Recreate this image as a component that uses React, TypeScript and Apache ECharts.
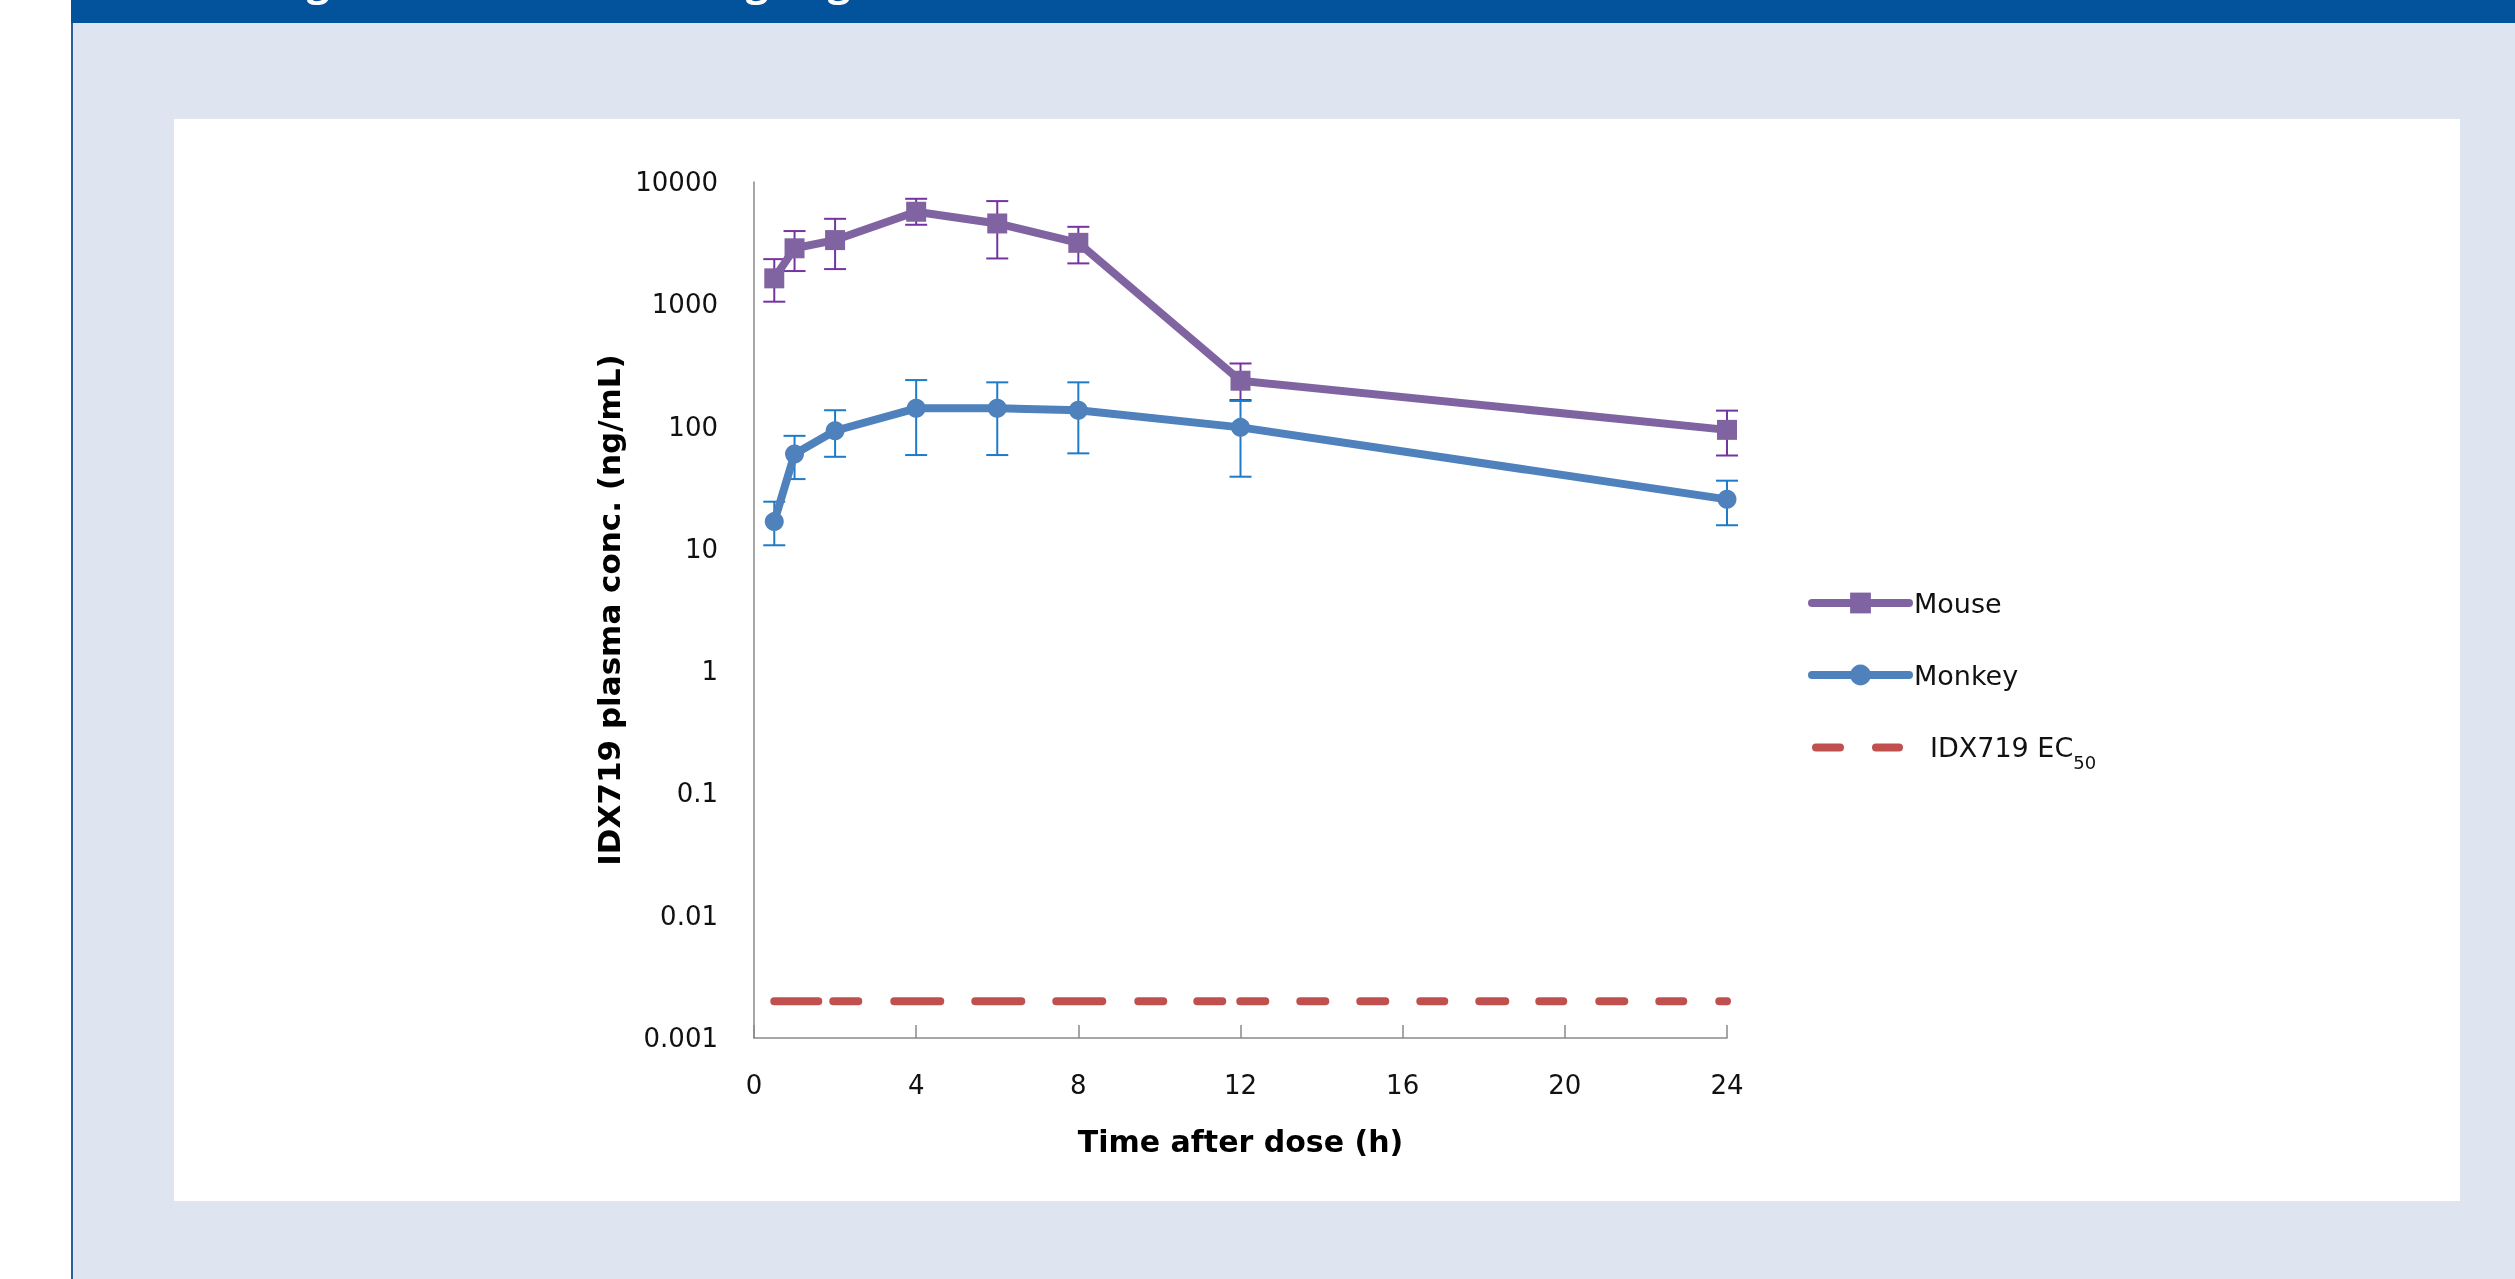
import React, { useEffect, useRef } from "react";
import * as echarts from "echarts";

// ---- data ----
const times = [0.5, 1, 2, 4, 6, 8, 12, 24];
const mouseMean = [1630, 2870, 3350, 5710, 4580, 3180, 237, 94];
const mouseUpper = [2340, 3970, 5000, 7290, 6980, 4300, 328, 135];
const mouseLower = [1050, 1870, 1940, 4470, 2370, 2160, 165, 58];
const monkeyMean = [16.7, 59.6, 92.4, 141, 141, 136, 98.5, 25.4];
const monkeyUpper = [24.3, 84, 136, 240, 230, 230, 162, 36.1];
const monkeyLower = [10.7, 37.2, 56.6, 58.5, 58.5, 60.4, 38.9, 15.6];
const ec50Times = [0.5, 24];
const ec50Value = 0.002;
const seriesNames = ["Mouse", "Monkey", "IDX719 EC50"];
const xAxisTitle = "Time after dose (h)";
const yAxisTitle = "IDX719 plasma conc. (ng/mL)";

// ---- styles ----
const MOUSE = "#8064A2";
const MONKEY = "#4F81BD";
const EC50 = "#C0504D";
const MOUSE_ERR = "#7434A2";
const MONKEY_ERR = "#1E7BC9";
const AXIS = "#8A8A8A";
const EC50_DASH = [44, 15, 25, 36, 46, 35, 46, 35, 46, 36, 25, 34, 25, 18, 25, 35, 25, 35, 25, 35, 24, 35, 26, 34, 24, 36, 25, 35, 24, 36, 12, 40];
const EC50_LEGEND_ICON =
  "path://M4,0 H28 A4,4 0 0 1 28,8 H4 A4,4 0 0 1 4,0 Z M64,0 H87 A4,4 0 0 1 87,8 H64 A4,4 0 0 1 64,0 Z M96.9,4 H97 V4.01 H96.9 Z";

function errorSeries(name: string, lo: number[], hi: number[], color: string) {
  return {
    type: "custom",
    name,
    z: 1,
    silent: true,
    data: times.map((t, i) => [t, lo[i], hi[i]]),
    encode: { x: 0, y: [1, 2] },
    renderItem: (params: any, api: any) => {
      const x = api.value(0);
      const p1 = api.coord([x, api.value(1)]);
      const p2 = api.coord([x, api.value(2)]);
      const hw = 11;
      const st = { stroke: color, lineWidth: 2 };
      return {
        type: "group",
        children: [
          { type: "line", shape: { x1: p1[0], y1: p1[1], x2: p2[0], y2: p2[1] }, style: st },
          { type: "line", shape: { x1: p1[0] - hw, y1: p1[1], x2: p1[0] + hw, y2: p1[1] }, style: st },
          { type: "line", shape: { x1: p2[0] - hw, y1: p2[1], x2: p2[0] + hw, y2: p2[1] }, style: st },
        ],
      };
    },
  };
}

export default function App() {
  const ref = useRef<HTMLDivElement>(null);
  useEffect(() => {
    const chart = echarts.init(ref.current!, undefined, { renderer: "svg", width: 2515, height: 1279 });
    const gStyle = { text: "g", fill: "#FFFFFF", font: "bold 40px 'Open Sans'", align: "center", verticalAlign: "middle" };
    const option: any = {
      animation: false,
      graphic: [
        { type: "rect", z: -10, shape: { x: 71, y: 0, width: 2444, height: 23 }, style: { fill: "#02529C" } },
        { type: "rect", z: -10, shape: { x: 73, y: 23, width: 2442, height: 1256 }, style: { fill: "#DFE4F1" } },
        { type: "rect", z: -10, shape: { x: 71, y: 23, width: 2, height: 1256 }, style: { fill: "#2B5E9F" } },
        { type: "rect", z: -10, shape: { x: 174, y: 119, width: 2286, height: 1082 }, style: { fill: "#FFFFFF" } },
        { type: "text", z: -9, x: 318, y: -20, style: gStyle },
        { type: "text", z: -9, x: 757, y: -20, style: gStyle },
        { type: "text", z: -9, x: 839, y: -20, style: gStyle },
      ],
      grid: { left: 754, right: 788, top: 182, bottom: 241 },
      legend: {
        orient: "vertical",
        left: 1808,
        top: 580,
        padding: 0,
        itemWidth: 97,
        itemHeight: 26,
        itemGap: 26,
        selectedMode: false,
        lineStyle: { width: 8, cap: "round" },
        data: [
          { name: seriesNames[0] },
          { name: seriesNames[1] },
          { name: seriesNames[2], icon: EC50_LEGEND_ICON },
        ],
        formatter: (name: string) => {
          if (name === seriesNames[2]) return "{a|IDX719 EC}{b|50}";
          return name;
        },
        textStyle: {
          fontFamily: "DejaVu Sans",
          fontSize: 27,
          lineHeight: 46,
          color: "#111",
          rich: {
            a: { fontFamily: "DejaVu Sans", fontSize: 27, lineHeight: 46, color: "#111", padding: [0, 0, 0, 16] },
            b: { fontFamily: "DejaVu Sans", fontSize: 18, lineHeight: 17, color: "#111", padding: [29, 0, 0, 0] },
          },
        },
      },
      xAxis: {
        type: "value",
        min: 0,
        max: 24,
        interval: 4,
        name: xAxisTitle,
        nameLocation: "middle",
        nameGap: 88,
        nameTextStyle: { fontFamily: "DejaVu Sans", fontWeight: "bold", fontSize: 30, color: "#000" },
        axisLine: { show: true, lineStyle: { color: AXIS, width: 1.5 } },
        axisTick: { show: true, inside: true, length: 13, lineStyle: { color: AXIS, width: 1.5 } },
        splitLine: { show: false },
        axisLabel: { fontFamily: "DejaVu Sans", fontSize: 26, color: "#111", margin: 34 },
      },
      yAxis: {
        type: "log",
        logBase: 10,
        min: 0.001,
        max: 10000,
        name: yAxisTitle,
        nameLocation: "middle",
        nameRotate: 90,
        nameGap: 130,
        nameTextStyle: { fontFamily: "DejaVu Sans", fontWeight: "bold", fontSize: 31, color: "#000" },
        axisLine: { show: true, lineStyle: { color: AXIS, width: 1.5 } },
        axisTick: { show: false },
        splitLine: { show: false },
        axisLabel: {
          fontFamily: "DejaVu Sans",
          fontSize: 26,
          color: "#111",
          margin: 36,
          formatter: (v: number) => String(Number(v.toPrecision(1))),
        },
      },
      series: [
        errorSeries("mouseErr", mouseLower, mouseUpper, MOUSE_ERR),
        errorSeries("monkeyErr", monkeyLower, monkeyUpper, MONKEY_ERR),
        {
          type: "line",
          name: seriesNames[2],
          z: 2,
          data: ec50Times.map((t) => [t, ec50Value]),
          symbol: "none",
          lineStyle: { color: EC50, width: 8, type: EC50_DASH, cap: "round" },
          itemStyle: { color: EC50 },
        },
        {
          type: "line",
          name: seriesNames[0],
          z: 3,
          data: times.map((t, i) => [t, mouseMean[i]]),
          symbol: "rect",
          symbolSize: 20,
          lineStyle: { color: MOUSE, width: 8, join: "round" },
          itemStyle: { color: MOUSE },
        },
        {
          type: "line",
          name: seriesNames[1],
          z: 3,
          data: times.map((t, i) => [t, monkeyMean[i]]),
          symbol: "circle",
          symbolSize: 19,
          lineStyle: { color: MONKEY, width: 8, join: "round" },
          itemStyle: { color: MONKEY },
        },
      ],
    };
    chart.setOption(option);
    return () => chart.dispose();
  }, []);
  return <div ref={ref} style={{ position: "fixed", left: 0, top: 0, width: 2515, height: 1279 }} />;
}
